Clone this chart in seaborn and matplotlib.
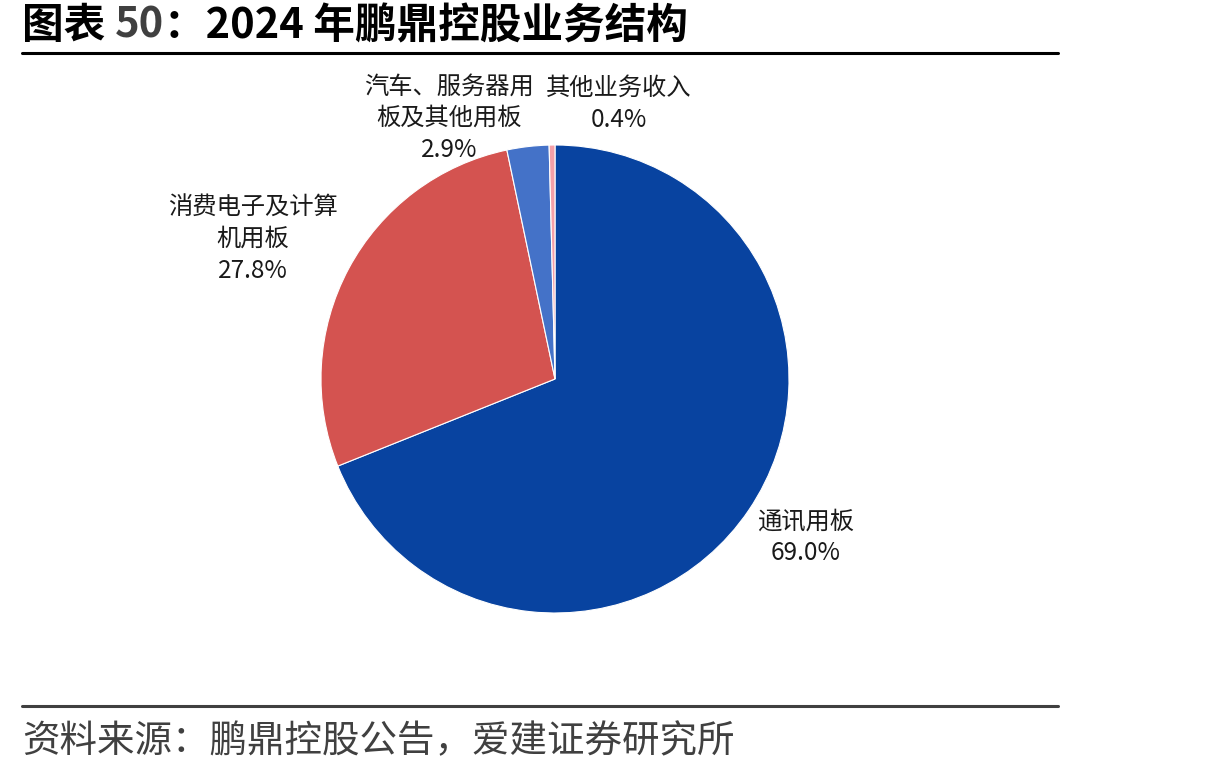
import matplotlib
matplotlib.use("Agg")
import matplotlib.pyplot as plt
import seaborn as sns
from matplotlib.lines import Line2D

sns.set_theme(style="white")
plt.rcParams['font.family'] = ['Noto Sans CJK SC', 'DejaVu Sans']

categories = ["通讯用板", "消费电子及计算\n机用板", "汽车、服务器用\n板及其他用板", "其他业务收入"]
values = [69.0, 27.8, 2.9, 0.4]
colors = ["#0843A0", "#D45350", "#4472C8", "#F4A0A8"]

W, H = 1206, 774
fig = plt.figure(figsize=(W / 100, H / 100), dpi=100)
ax = fig.add_axes([0, 0, 1, 1])

cx, cy, r = 555, H - 379, 234
wedges, texts = ax.pie(values, colors=colors, startangle=90, counterclock=False,
                       center=(cx, cy), radius=r,
                       labels=[f"{c}\n{v:.1f}%" for c, v in zip(categories, values)],
                       wedgeprops=dict(edgecolor="white", linewidth=0.8), frame=True)
ax.set_xlim(0, W)
ax.set_ylim(0, H)
ax.set_aspect("equal")
ax.axis("off")

label_pos = [(806, H - 537), (253, H - 239), (449, H - 118), (619, H - 104)]
for t, (x, y) in zip(texts, label_pos):
    t.set_position((x, y))
    t.set_ha("center")
    t.set_va("center")
    t.set_fontsize(17.5)
    t.set_color("#1a1a1a")
    t.set_linespacing(1.28)
    t.set_multialignment("center")

# Title in pieces ("50" in dark gray)
renderer = fig.canvas.get_renderer()
x0 = 22
parts = [("图表 ", "#000000"), ("50", "#404040"), ("：2024 年鹏鼎控股业务结构", "#000000")]
for s, c in parts:
    t = fig.text(x0 / W, 1 - 26 / H, s, fontsize=30, fontweight="bold", color=c, va="center", ha="left")
    bb = t.get_window_extent(renderer=renderer)
    x0 += bb.width

fig.add_artist(Line2D([22 / W, 1058 / W], [1 - 53 / H, 1 - 53 / H], color="black", linewidth=2.2,
                      transform=fig.transFigure))
fig.add_artist(Line2D([22 / W, 1058 / W], [1 - 706 / H, 1 - 706 / H], color="#404040", linewidth=2.2,
                      transform=fig.transFigure))
fig.text(22 / W, 1 - 742 / H, "资料来源：鹏鼎控股公告，爱建证券研究所", fontsize=27, color="#404040",
         va="center", ha="left")

fig.savefig("out.png", dpi=100)
